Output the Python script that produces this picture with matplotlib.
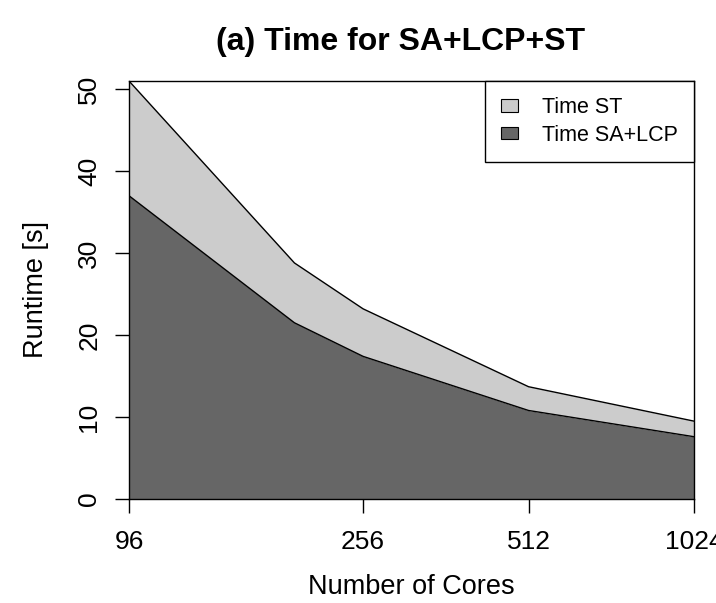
import matplotlib
matplotlib.use("Agg")
import matplotlib.pyplot as plt
import numpy as np

# --- Data ---
cores = [96, 192, 256, 512, 1024]
time_sa_lcp = [37.0, 21.5, 17.4, 10.8, 7.6]
time_st = [14.0, 7.3, 5.8, 2.9, 1.9]
tick_cores = [96, 256, 512, 1024]
series_labels = ["Time ST", "Time SA+LCP"]

plt.rcParams['font.family'] = ['Liberation Sans', 'DejaVu Sans']

fig = plt.figure(figsize=(7.16, 6.03), dpi=100)
ax = fig.add_axes([129 / 716, 1 - 499 / 603, (694 - 129) / 716, (499 - 81) / 603])

sa = np.array(time_sa_lcp)
total = sa + np.array(time_st)

# stacked areas, R-style grey fills with thin black outlines
ax.fill_between(cores, 0, sa, color='#666666', linewidth=0)
ax.fill_between(cores, sa, total, color='#CCCCCC', linewidth=0)
ax.plot(cores, sa, color='black', linewidth=1.0)
ax.plot(cores, total, color='black', linewidth=1.0)

ax.set_xscale('log', base=2)
ax.set_xlim(96, 1024)
ax.set_ylim(0, 51)
ax.set_xticks(tick_cores)
ax.set_xticklabels([str(c) for c in tick_cores])
ax.minorticks_off()
ax.set_yticks([0, 10, 20, 30, 40, 50])

for sp in ax.spines.values():
    sp.set_linewidth(1.0)
    sp.set_color('black')

ax.tick_params(axis='both', length=10, width=1.0, labelsize=19, pad=10)
ax.tick_params(axis='x', pad=12)
for lab in ax.get_yticklabels():
    lab.set_rotation(90)
    lab.set_va('center')

ax.set_xlabel('Number of Cores', fontsize=19.5, labelpad=15)
ax.set_ylabel('Runtime [s]', fontsize=19.5, labelpad=20)
fig.text(0.56, 1 - 42 / 603, '(a) Time for SA+LCP+ST', fontsize=23,
         fontweight='bold', ha='center', va='center')

handles = [plt.Rectangle((0, 0), 1, 1, facecolor='#CCCCCC', edgecolor='black', linewidth=0.8),
           plt.Rectangle((0, 0), 1, 1, facecolor='#666666', edgecolor='black', linewidth=0.8)]
leg = ax.legend(handles, series_labels, loc='upper right', borderaxespad=0,
                fancybox=False, framealpha=1, edgecolor='black', fontsize=15.5,
                handlelength=0.8, handleheight=0.5, handletextpad=1.1,
                borderpad=0.75, labelspacing=0.3)
leg.get_frame().set_linewidth(1.0)

fig.savefig('out.png', dpi=100)
